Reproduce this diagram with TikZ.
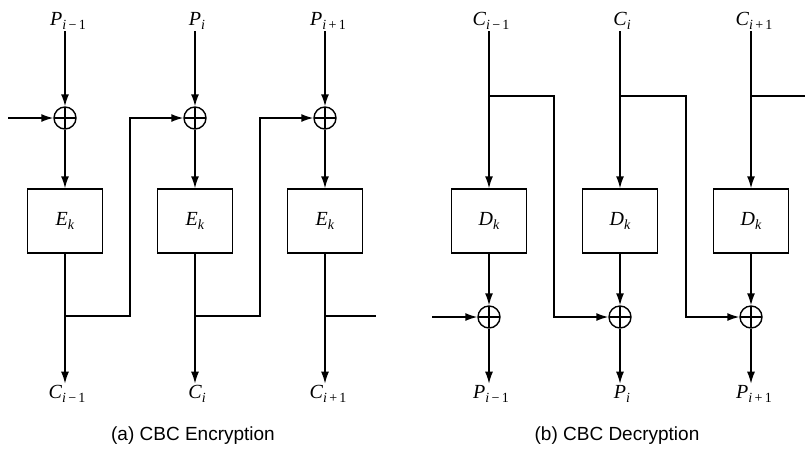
\documentclass[tikz,border=0pt]{standalone}
\usepackage{fontspec}
\setmainfont{Liberation Serif}
\setsansfont{Liberation Sans}
\usetikzlibrary{arrows.meta}
\newcommand{\lbl}[2]{\fontsize{20}{22}\selectfont\textit{#1}\raisebox{-0.45ex}{\fontsize{14}{16}\selectfont #2}}
\begin{document}
\begin{tikzpicture}[x=1pt,y=-1pt, line width=1.4pt,
  conn/.style={-{Latex[length=12pt,width=8pt]}},
  blk/.style={draw, minimum width=75pt, minimum height=64pt, inner sep=0pt},
  xorn/.style={draw, circle, minimum size=22pt, inner sep=0pt,
    path picture={\draw[line width=1.2pt] (path picture bounding box.north) -- (path picture bounding box.south)
      (path picture bounding box.west) -- (path picture bounding box.east);}},
  lab/.style={inner sep=1pt},
  capt/.style={font=\sffamily\fontsize{19}{22}\selectfont}]
\useasboundingbox (0,0) rectangle (805,448);
% ---------- (a) Encryption ----------
\node[lab] (p1) at (68,21) {\lbl{P}{\textit{i}\,−\,1}};
\node[lab] (p2) at (197,21) {\lbl{P}{\textit{i}}};
\node[lab] (p3) at (328,21) {\lbl{P}{\textit{i}\,+\,1}};
\node[xorn] (x1) at (65,118) {};
\node[xorn] (x2) at (195,118) {};
\node[xorn] (x3) at (325,118) {};
\node[blk] (e1) at (65,221) {\lbl{E}{\textit{k}}};
\node[blk] (e2) at (195,221) {\lbl{E}{\textit{k}}};
\node[blk] (e3) at (325,221) {\lbl{E}{\textit{k}}};
\node[lab] (c1) at (67,394) {\lbl{C}{\textit{i}\,−\,1}};
\node[lab] (c2) at (197,394) {\lbl{C}{\textit{i}}};
\node[lab] (c3) at (328,394) {\lbl{C}{\textit{i}\,+\,1}};
\coordinate (in1) at (8,118);
\coordinate (b1) at (65,316);
\coordinate (b2) at (195,316);
\coordinate (b3) at (325,316);
\coordinate (k1) at (130,316);
\coordinate (k2) at (260,316);
\coordinate (k3) at (376,316);
\foreach \i in {1,2,3}{
  \draw[conn] (p\i.south -| x\i) -- (x\i);
  \draw[conn] (x\i) -- (e\i);
  \draw[conn] (e\i) -- (c\i.north -| e\i);
}
\draw[conn] (in1) -- (x1);
\draw[conn] (b1) -- (k1) |- (x2);
\draw[conn] (b2) -- (k2) |- (x3);
\draw (b3) -- (k3);
\node[capt] (ca) at (193,436) {(a) CBC Encryption};
% ---------- (b) Decryption ----------
\node[lab] (dc1) at (491,21) {\lbl{C}{\textit{i}\,−\,1}};
\node[lab] (dc2) at (622,21) {\lbl{C}{\textit{i}}};
\node[lab] (dc3) at (754,21) {\lbl{C}{\textit{i}\,+\,1}};
\node[blk] (d1) at (489,221) {\lbl{D}{\textit{k}}};
\node[blk] (d2) at (620,221) {\lbl{D}{\textit{k}}};
\node[blk] (d3) at (751,221) {\lbl{D}{\textit{k}}};
\node[xorn] (y1) at (489,317) {};
\node[xorn] (y2) at (620,317) {};
\node[xorn] (y3) at (751,317) {};
\node[lab] (dp1) at (491,394) {\lbl{P}{\textit{i}\,−\,1}};
\node[lab] (dp2) at (622,394) {\lbl{P}{\textit{i}}};
\node[lab] (dp3) at (754,394) {\lbl{P}{\textit{i}\,+\,1}};
\coordinate (in2) at (432,317);
\coordinate (t1) at (489,96);
\coordinate (t2) at (620,96);
\coordinate (t3) at (751,96);
\coordinate (u1) at (554,96);
\coordinate (u2) at (686,96);
\coordinate (u3) at (805,96);
\foreach \i in {1,2,3}{
  \draw[conn] (dc\i.south -| d\i) -- (d\i);
  \draw[conn] (d\i) -- (y\i);
  \draw[conn] (y\i) -- (dp\i.north -| y\i);
}
\draw[conn] (in2) -- (y1);
\draw[conn] (t1) -- (u1) |- (y2);
\draw[conn] (t2) -- (u2) |- (y3);
\draw (t3) -- (u3);
\node[capt] (cb) at (617,436) {(b) CBC Decryption};
\end{tikzpicture}
\end{document}
